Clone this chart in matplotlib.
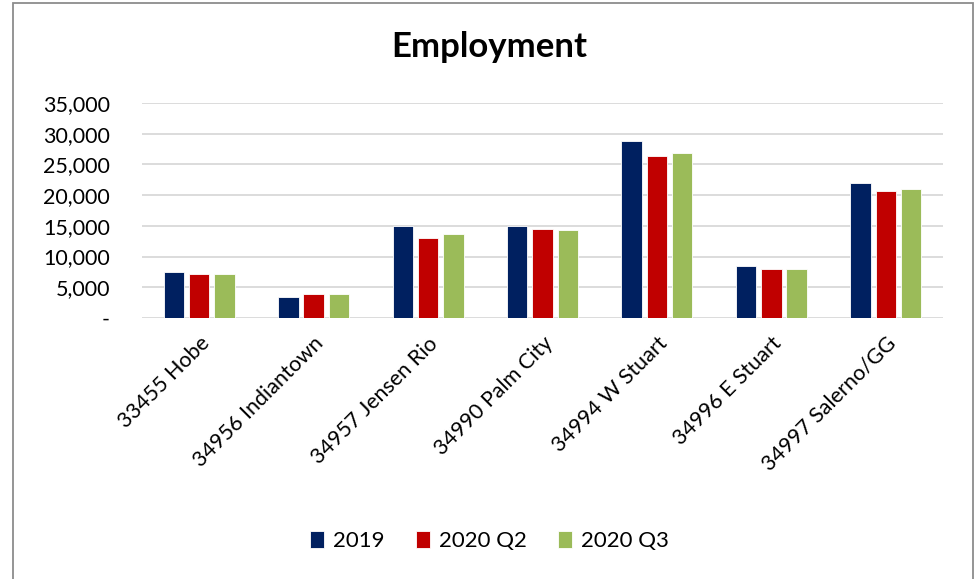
import matplotlib
matplotlib.use("Agg")
import matplotlib.pyplot as plt
import numpy as np
from matplotlib.patches import Rectangle
from matplotlib.ticker import FuncFormatter

categories = ["33455 Hobe", "34956 Indiantown", "34957 Jensen Rio", "34990 Palm City",
              "34994 W Stuart", "34996 E Stuart", "34997 Salerno/GG"]
series_names = ["2019", "2020 Q2", "2020 Q3"]
emp_2019 = [7450, 3420, 15030, 14940, 28880, 8470, 21990]
emp_2020_q2 = [7120, 3910, 12980, 14450, 26380, 8030, 20630]
emp_2020_q3 = [7170, 3910, 13680, 14390, 26870, 8030, 21060]
colors = ["#002060", "#C00000", "#9BBB59"]
yticks = [0, 5000, 10000, 15000, 20000, 25000, 30000, 35000]

FONT = ["Lato", "DejaVu Sans"]
plt.rcParams["font.family"] = FONT

fig = plt.figure(figsize=(9.79, 5.79), dpi=100)
ax = fig.add_axes([142 / 979, 1 - 318 / 579, (943 - 142) / 979, (318 - 103) / 579])

x = np.arange(len(categories))
step = 0.221
width = 0.178
for i, (vals, name, c) in enumerate(zip([emp_2019, emp_2020_q2, emp_2020_q3], series_names, colors)):
    ax.bar(x + (i - 1) * step, vals, width=width, color=c, label=name,
           edgecolor="white", linewidth=0.6, zorder=3)

ax.set_xlim(-0.5, len(categories) - 0.5)
ax.set_ylim(0, 35000)
ax.set_yticks(yticks)
ax.yaxis.set_major_formatter(FuncFormatter(lambda v, p: "-" if v == 0 else f"{int(v):,}"))
ax.grid(axis="y", color="#D9D9D9", linewidth=1.3, zorder=0)
ax.set_axisbelow(True)
for s in ax.spines.values():
    s.set_visible(False)
ax.tick_params(axis="both", length=0, labelsize=15.5, colors="black")
ax.tick_params(axis="y", pad=23)
ax.set_xticks(x)
ax.set_xticklabels(categories, rotation=45, ha="right", rotation_mode="anchor")
ax.tick_params(axis="x", pad=11)

fig.text(0.5, 1 - 47 / 579, "Employment", ha="center", va="center",
         fontsize=25, fontweight="bold")

leg = fig.legend(loc="center", bbox_to_anchor=(0.5, 1 - 541 / 579), ncol=3, frameon=False,
                 fontsize=16, handlelength=0.65, handleheight=0.85, handletextpad=0.4,
                 columnspacing=1.4)

fig.patches.append(Rectangle((13 / 979, -0.01), (973 - 13) / 979, 1.01 - 3 / 579,
                             transform=fig.transFigure, fill=False,
                             edgecolor="#8C8C8C", linewidth=1.3))

fig.savefig("out.png", dpi=100, facecolor="white")
